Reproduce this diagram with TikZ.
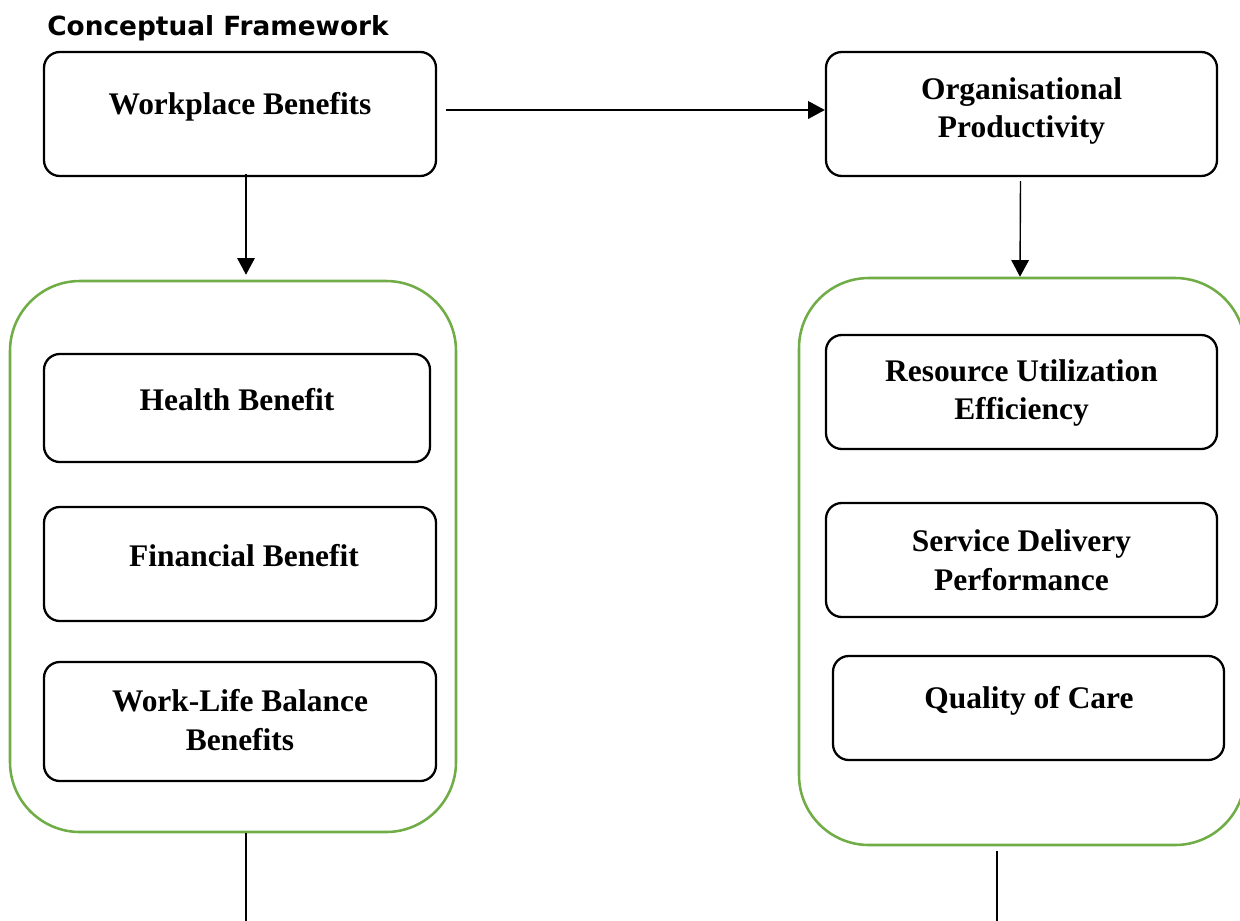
\documentclass[tikz,border=0pt]{standalone}
\usepackage{fontspec}
\setmainfont{Liberation Serif}
\newfontfamily\titlefont{DejaVu Sans}
\usetikzlibrary{arrows.meta,calc}
\definecolor{frgreen}{HTML}{70AD47}
\begin{document}
\begin{tikzpicture}[x=0.02cm,y=-0.02cm,
  bbox/.style={draw=black,line width=1.3pt,rounded corners=9pt,rectangle,inner sep=0pt},
  gbox/.style={draw=frgreen,line width=1.45pt,rounded corners=1.4cm,rectangle,inner sep=0pt},
  lbl/.style={font=\fontsize{17.9}{22}\selectfont\bfseries,align=center,inner sep=0pt},
  conn/.style={line width=0.8pt,-{Triangle[width=10pt,length=9.5pt]}},
  tail/.style={line width=0.6pt}]
\useasboundingbox (0,0) rectangle (1240,920);
\node[anchor=base west,inner sep=0pt,font=\titlefont\bfseries\fontsize{15}{18}\selectfont] (title) at (47,35) {Conceptual Framework};
% top boxes
\node[bbox,minimum width=392*0.02cm,minimum height=124*0.02cm] (wb) at (240,114) {};
\node[lbl] (wbt) at (240,107) {Workplace Benefits};
\node[bbox,minimum width=391*0.02cm,minimum height=124*0.02cm] (op) at (1021.5,114) {};
\node[lbl] (opt) at (1021.5,111) {Organisational\\Productivity};
% green containers
\node[gbox,minimum width=446*0.02cm,minimum height=551*0.02cm] (lg) at (233,556.5) {};
\node[gbox,minimum width=446*0.02cm,minimum height=567*0.02cm] (rg) at (1022,561.5) {};
% left inner boxes
\node[bbox,minimum width=386*0.02cm,minimum height=108*0.02cm] (hb) at (237,408) {};
\node[lbl] (hbt) at (237,400) {Health Benefit};
\node[bbox,minimum width=392*0.02cm,minimum height=114*0.02cm] (fb) at (240,564) {};
\node[lbl] (fbt) at (244,556) {Financial Benefit};
\node[bbox,minimum width=392*0.02cm,minimum height=119*0.02cm] (wl) at (240,721.5) {};
\node[lbl] (wlt) at (240,720) {Work-Life Balance\\Benefits};
% right inner boxes
\node[bbox,minimum width=391*0.02cm,minimum height=114*0.02cm] (ru) at (1021.5,392) {};
\node[lbl] (rut) at (1021.5,393) {Resource Utilization\\Efficiency};
\node[bbox,minimum width=391*0.02cm,minimum height=114*0.02cm] (sd) at (1021.5,560) {};
\node[lbl] (sdt) at (1021.5,560) {Service Delivery\\Performance};
\node[bbox,minimum width=391*0.02cm,minimum height=104*0.02cm] (qc) at (1028.5,708) {};
\node[lbl] (qct) at (1029,701) {Quality of Care};
% connectors
\draw[conn] ($(wb.east)+(9,-4)$) -- ($(op.west)+(0,-4)$);
\draw[conn] ($(wb.south)+(6,-3)$) -- ($(lg.north)+(13,-5)$);
\draw[conn] ($(op.south)+(-1,4)$) -- ($(rg.north)+(-2,0)$);
\coordinate (lend) at (246,925);
\coordinate (rend) at (997,925);
\draw[tail] (lg.south -| lend) -- (lend);
\draw[tail] ($(rg.south -| rend)+(0,5)$) -- (rend);
\end{tikzpicture}
\end{document}
